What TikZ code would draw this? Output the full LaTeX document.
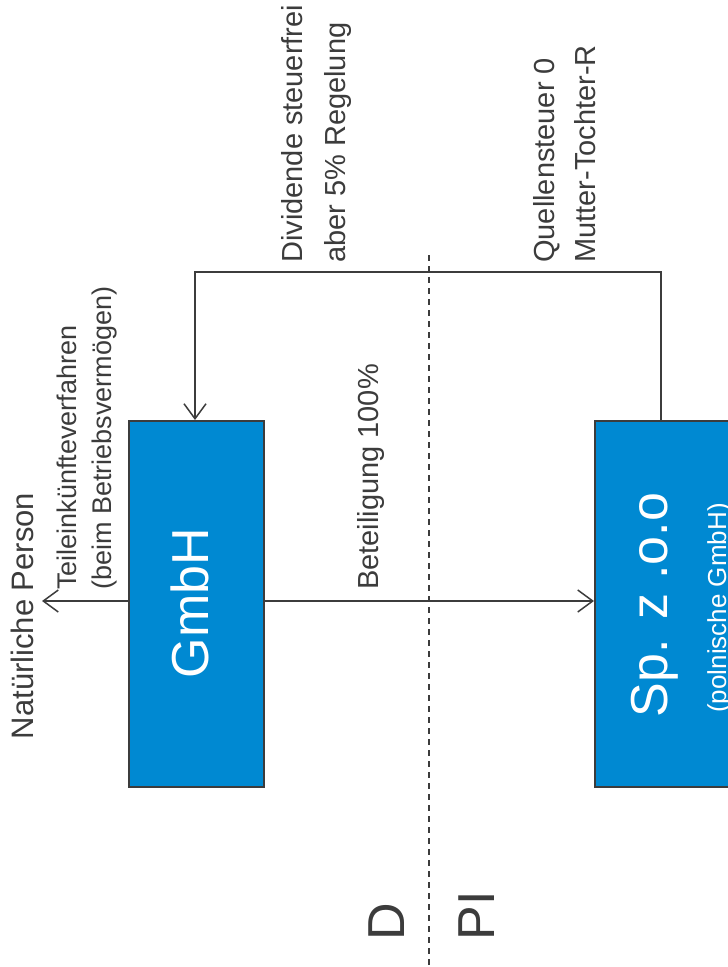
\documentclass[tikz,border=0pt]{standalone}
\usepackage{fontspec}
\setmainfont{Liberation Sans}
\usetikzlibrary{arrows.meta}
\definecolor{boxblue}{HTML}{0089D2}
\definecolor{ink}{HTML}{3C3C3C}
\begin{document}
\begin{tikzpicture}[x=1pt,y=-1pt,
  box/.style={draw=ink, line width=1.5pt, fill=boxblue, inner sep=0pt},
  conn/.style={draw=ink, line width=1.5pt},
  arr/.style={conn, -{Straight Barb[length=15pt,width=22pt,line width=1.5pt]}},
  lbl/.style={text=ink, inner sep=0pt, rotate=90, align=left, font=\fontsize{29}{43}\selectfont},
  big/.style={inner sep=0pt, rotate=90, font=\fontsize{52}{60}\selectfont}]
\useasboundingbox (0,0) rectangle (728,967);
\fill[white] (0,0) rectangle (728,967);
% boxes
\node[box, minimum width=135pt, minimum height=366pt, anchor=north west] (gmbh) at (128,420) {};
\node[box, minimum width=150pt, minimum height=366pt, anchor=north west] (sp) at (594,420) {};
\node[big, text=white] (gmbhtxt) at (190,603) {GmbH};
\node[big, text=white] (sptxt) at (655,605) {Sp. z .o.o};
\node[inner sep=0pt, rotate=90, text=white, font=\fontsize{26}{30}\selectfont, anchor=north] (sppol) at (707,608) {(polnische GmbH)};
% country labels
\node[big, text=ink] (dl) at (387,922) {D};
\node[big, text=ink] (pl) at (477,916) {PI};
% dashed border
\coordinate (d1) at (429,255);
\coordinate (d2) at (429,967);
\draw[ink, line width=1.5pt, dash pattern=on 6pt off 5pt] (d1) -- (d2);
% connectors
\coordinate (t1) at (661,272);
\coordinate (t2) at (195,272);
\draw[arr] (t1 |- sp.north) -- (t1) -- (t2) -- (t2 |- gmbh.north);
\coordinate (h1) at (300,601);
\draw[arr] (gmbh.east |- h1) -- (sp.west |- h1);
\coordinate (np) at (42,601);
\draw[arr] (gmbh.west |- np) -- (np);
% labels
\node[lbl, anchor=north west] (div) at (281,263) {Dividende steuerfrei\\aber 5\% Regelung};
\node[lbl, anchor=north west, font=\fontsize{29}{41}\selectfont] (qst) at (533,263) {Quellensteuer 0\\Mutter-Tochter-R};
\node[lbl, anchor=north west] (bet) at (357,590) {Beteiligung 100\%};
\node[lbl, anchor=north west, font=\fontsize{27}{35}\selectfont] (teil) at (57,590) {Teileinkünfteverfahren\\(beim Betriebsvermögen)};
\node[lbl, font=\fontsize{31}{40}\selectfont] (nat) at (22,616) {Natürliche Person};
\end{tikzpicture}
\end{document}
